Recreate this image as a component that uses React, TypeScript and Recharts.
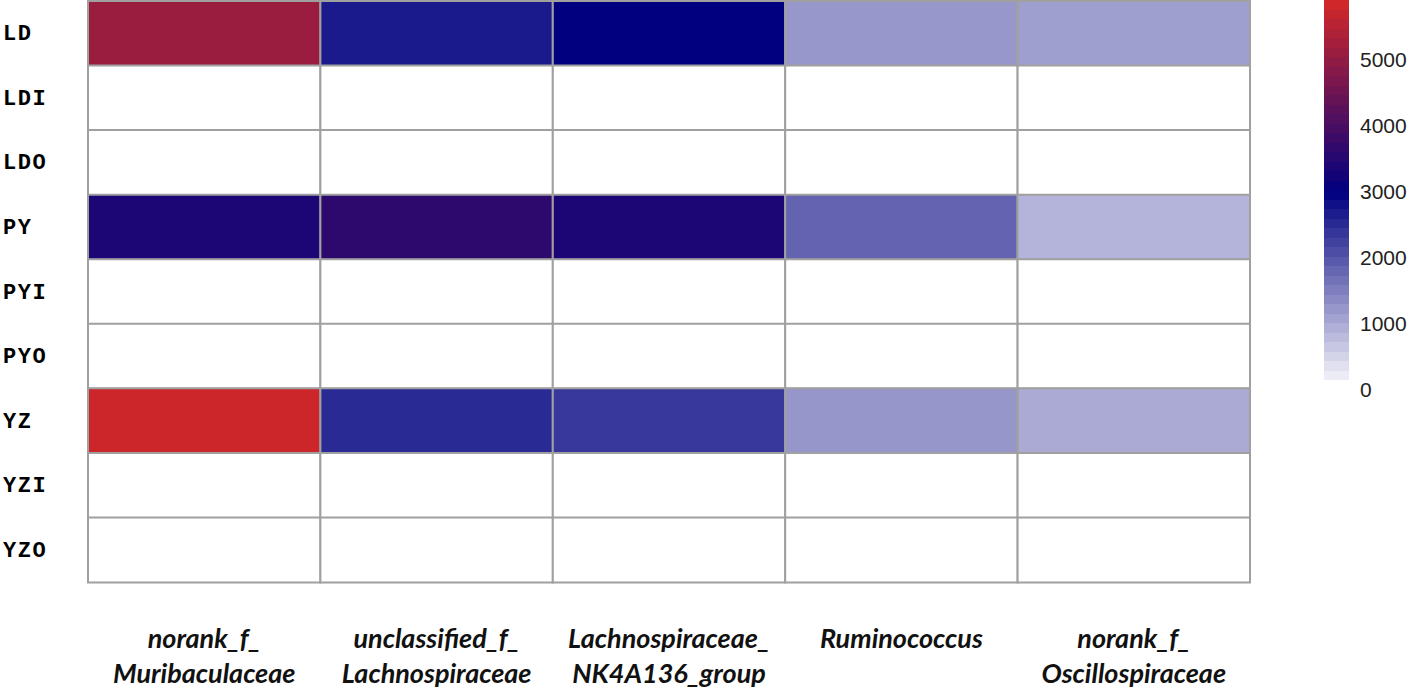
import React from 'react';
import { BarChart, Bar, XAxis, YAxis, Cell } from 'recharts';

const rows = ['LD', 'LDI', 'LDO', 'PY', 'PYI', 'PYO', 'YZ', 'YZI', 'YZO'];
const genusLine1 = ['norank_f_', 'unclassified_f_', 'Lachnospiraceae_', 'Ruminococcus', 'norank_f_'];
const genusLine2 = ['Muribaculaceae', 'Lachnospiraceae', 'NK4A136_group', '', 'Oscillospiraceae'];

const muribaculaceae = [5110, 0, 0, 3380, 0, 0, 5790, 0, 0];
const lachnoUnclassified = [2690, 0, 0, 3630, 0, 0, 2510, 0, 0];
const nk4a136 = [3020, 0, 0, 3380, 0, 0, 2340, 0, 0];
const ruminococcus = [1220, 0, 0, 1840, 0, 0, 1240, 0, 0];
const oscillospiraceae = [1130, 0, 0, 880, 0, 0, 1000, 0, 0];

const series = [muribaculaceae, lachnoUnclassified, nk4a136, ruminococcus, oscillospiraceae];
const colorTicks = [0, 1000, 2000, 3000, 4000, 5000];
const colorMin = 150;
const colorMax = 5900;

function lerp(a: number[], b: number[], t: number) {
  return a.map((v, i) => Math.round(v + (b[i] - v) * t));
}
function colorFor(v: number) {
  const white = [255, 255, 255];
  const navy = [0, 0, 128];
  const red = [212, 40, 40];
  let c;
  if (v <= 3000) c = lerp(white, navy, Math.max(0, v) / 3000);
  else c = lerp(navy, red, Math.min(1, (v - 3000) / 2900));
  return `rgb(${c[0]},${c[1]},${c[2]})`;
}

const data = rows.map((r, i) => {
  const o: any = { row: r };
  series.forEach((s, j) => {
    o['c' + j] = 1;
    o['v' + j] = s[i];
  });
  return o;
});

const colorbarData = [{ name: 'scale', range: [colorMin, colorMax] }];

const bands = 40;
const gradientStops: { offset: string; color: string }[] = [];
for (let k = 0; k < bands; k++) {
  const vTop = colorMax - ((colorMax - colorMin) * (k + 0.5)) / bands;
  const col = colorFor(vTop);
  gradientStops.push({ offset: `${(k / bands) * 100}%`, color: col });
  gradientStops.push({ offset: `${((k + 1) / bands) * 100}%`, color: col });
}

const RowTick = (props: any) => {
  const { y, payload } = props;
  return (
    <text
      x={3}
      y={y}
      dy={7}
      textAnchor="start"
      fontFamily="'Liberation Mono', 'DejaVu Sans Mono', monospace"
      fontWeight="bold"
      fontSize={22}
      letterSpacing={1.5}
      fill="#000"
    >
      {payload.value}
    </text>
  );
};

const GenusTick = (props: any) => {
  const { x, y, payload } = props;
  const idx = Math.floor(payload.value);
  return (
    <text
      x={x}
      y={y}
      textAnchor="middle"
      fontFamily="Lato, 'Open Sans', sans-serif"
      fontWeight="bold"
      fontStyle="italic"
      fontSize={27}
      fill="#111"
    >
      <tspan x={x} dy={66 - (y - 582)}>{genusLine1[idx]}</tspan>
      <tspan x={x} dy={35}>{genusLine2[idx]}</tspan>
    </text>
  );
};

export default function App() {
  return (
    <div style={{ position: 'absolute', left: 0, top: 0, width: 1416, height: 693, background: '#fff' }}>
      <div style={{ position: 'absolute', left: 0, top: 0 }}>
        <BarChart
          width={1416}
          height={693}
          data={data}
          layout="vertical"
          barCategoryGap={0}
          margin={{ top: 1, right: 166, left: 0, bottom: 0 }}
        >
          <XAxis
            type="number"
            domain={[0, 5]}
            ticks={[0.5, 1.5, 2.5, 3.5, 4.5]}
            height={111}
            axisLine={false}
            tickLine={false}
            tick={<GenusTick />}
            interval={0}
          />
          <YAxis
            type="category"
            dataKey="row"
            width={88}
            axisLine={false}
            tickLine={false}
            tick={<RowTick />}
            interval={0}
          />
          {series.map((_, j) => (
            <Bar
              key={j}
              dataKey={'c' + j}
              stackId="a"
              isAnimationActive={false}
              stroke="#a0a0a0"
              strokeWidth={2}
            >
              {data.map((d, i) => (
                <Cell key={i} fill={colorFor(d['v' + j])} />
              ))}
            </Bar>
          ))}
        </BarChart>
      </div>
      <div style={{ position: 'absolute', left: 0, top: 0 }}>
        <BarChart
          width={1416}
          height={693}
          data={colorbarData}
          barCategoryGap={0}
          margin={{ top: 0, right: 0, left: 1324, bottom: 303 }}
        >
          <defs>
            <linearGradient id="cbGrad" x1="0" y1="0" x2="0" y2="1">
              {gradientStops.map((s, i) => (
                <stop key={i} offset={s.offset} stopColor={s.color} />
              ))}
            </linearGradient>
          </defs>
          <XAxis dataKey="name" hide />
          <YAxis
            orientation="right"
            width={67}
            domain={[0, colorMax]}
            ticks={colorTicks}
            axisLine={false}
            tickLine={false}
            tickSize={0}
            tickMargin={11}
            tick={{ fill: '#222', fontSize: 21, fontFamily: "'Liberation Sans', Arial, sans-serif", textAnchor: 'start' }}
          />
          <Bar dataKey="range" fill="url(#cbGrad)" isAnimationActive={false} />
        </BarChart>
      </div>
    </div>
  );
}
